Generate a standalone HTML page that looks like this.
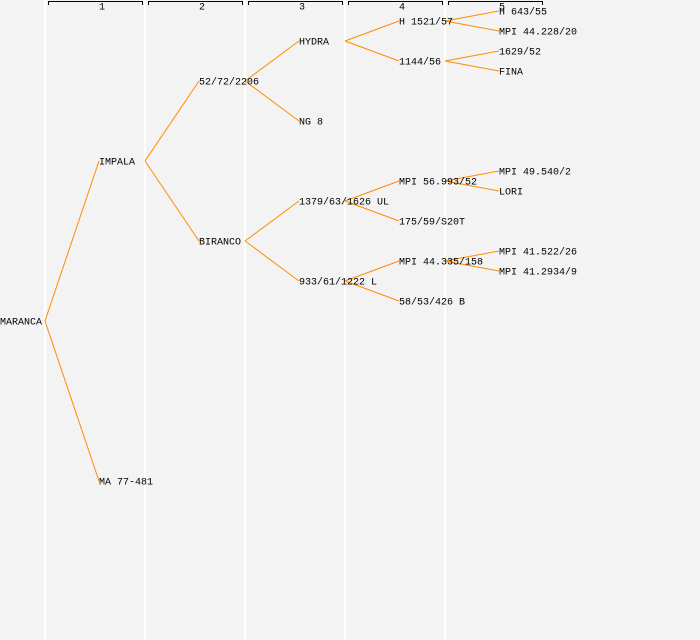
<!DOCTYPE html>
<html><head><style>
body{margin:0;background:#f3f3f3;}
svg{display:block}
text{font-family:"Liberation Mono",monospace;font-size:10px;fill:#000;dominant-baseline:central}
</style></head><body>
<svg width="700" height="640" xmlns="http://www.w3.org/2000/svg">
<rect width="700" height="640" fill="#f3f3f3"/>
<g stroke="#fff" stroke-width="2">
<line x1="45" y1="0" x2="45" y2="640"/><line x1="145" y1="0" x2="145" y2="640"/>
<line x1="245" y1="0" x2="245" y2="640"/><line x1="345" y1="0" x2="345" y2="640"/>
<line x1="445" y1="0" x2="445" y2="640"/>
</g>
<g stroke="#000" stroke-width="1" fill="none">
<path d="M48.5 5V1.5H142.5V5"/><path d="M148.5 5V1.5H242.5V5"/><path d="M248.5 5V1.5H342.5V5"/><path d="M348.5 5V1.5H442.5V5"/><path d="M448.5 5V1.5H542.5V5"/>
</g>
<g style="font-size:8px" text-anchor="middle">
<text x="102" y="8">1</text><text x="202" y="8">2</text><text x="302" y="8">3</text><text x="402" y="8">4</text><text x="502" y="8">5</text>
</g>
<g stroke="#ff8c00" stroke-width="1" fill="none">
<path d="M45 321L99 161M45 321L99 481"/>
<path d="M145 161L199 81M145 161L199 241"/>
<path d="M245 81L299 41M245 81L299 121M245 241L299 201M245 241L299 281"/>
<path d="M345 41L399 21M345 41L399 61M345 201L399 181M345 201L399 221M345 281L399 261M345 281L399 301"/>
<path d="M445 21L499 11M445 21L499 31M445 61L499 51M445 61L499 71M445 181L499 171M445 181L499 191M445 261L499 251M445 261L499 271"/>
</g>
<g transform="translate(0,2)">
<text x="0" y="321">MARANCA</text>
<text x="99" y="161">IMPALA</text><text x="99" y="481">MA 77-481</text>
<text x="199" y="81">52/72/2206</text><text x="199" y="241">BIRANCO</text>
<text x="299" y="41">HYDRA</text><text x="299" y="121">NG 8</text><text x="299" y="201">1379/63/1626 UL</text><text x="299" y="281">933/61/1222 L</text>
<text x="399" y="21">H 1521/57</text><text x="399" y="61">1144/56</text><text x="399" y="181">MPI 56.993/52</text><text x="399" y="221">175/59/S20T</text><text x="399" y="261">MPI 44.335/158</text><text x="399" y="301">58/53/426 B</text>
<text x="499" y="11">H 643/55</text><text x="499" y="31">MPI 44.228/20</text><text x="499" y="51">1629/52</text><text x="499" y="71">FINA</text>
<text x="499" y="171">MPI 49.540/2</text><text x="499" y="191">LORI</text><text x="499" y="251">MPI 41.522/26</text><text x="499" y="271">MPI 41.2934/9</text>
</g>
</svg>
</body></html>
